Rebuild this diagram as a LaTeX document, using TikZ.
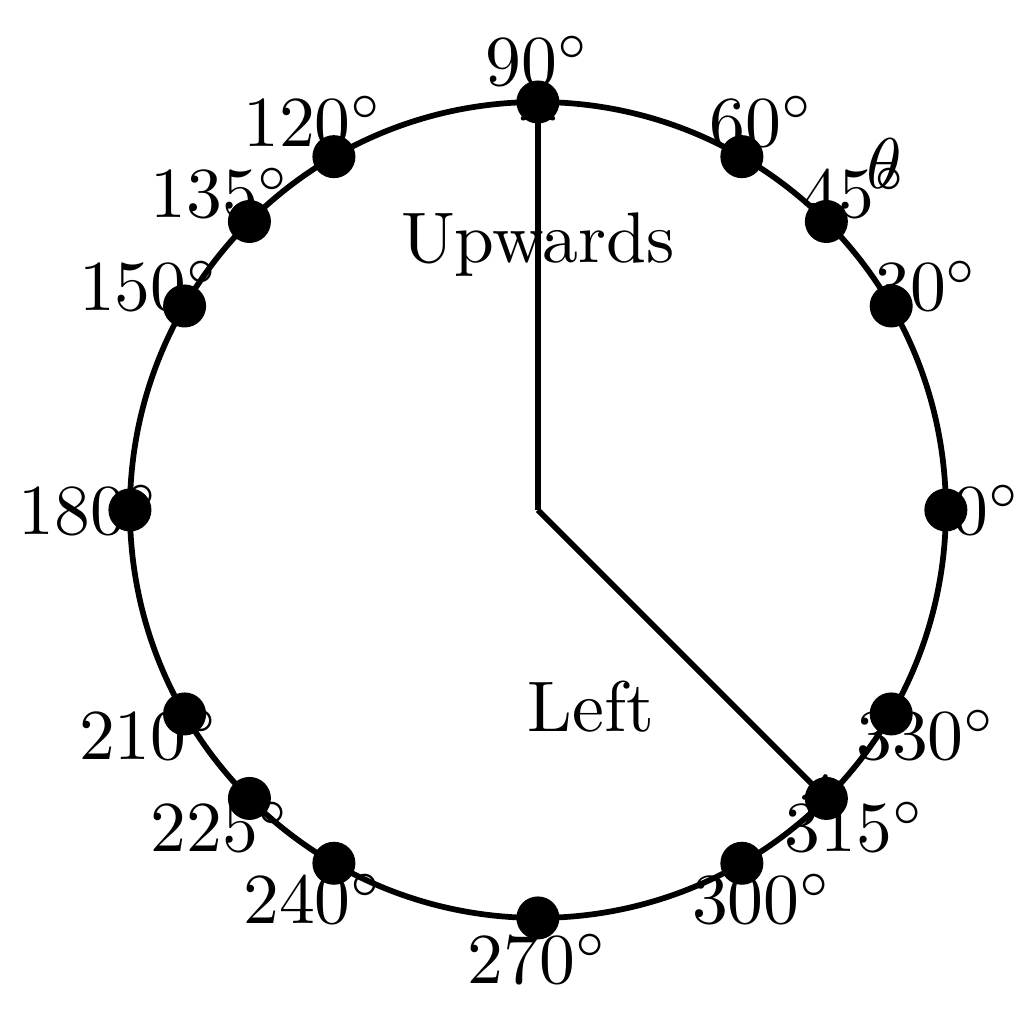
\documentclass[tikz,border=0pt]{standalone}
\usepackage{amsmath}
\usepackage{amssymb}

\begin{document}
\begin{tikzpicture}[thick]
      \useasboundingbox (-2.637,-2.52) rectangle (2.382,2.5);
      \coordinate (O) at (0,0);
      \draw (O) circle (2);
      \node (up) at (0,1.3) {Upwards};
      \node (left) at (-75:1) {Left};
      \node (theta) at (45:2.4) {$\theta$};
      \foreach \a in {0,30,45,60,90,120,135,150,180,210,225,240,270,300,315,330} {
        \coordinate (p\a) at (\a:2);
        \node (l\a) at (\a:2.2) {$\a^\circ$};
      }
      
      \draw[->] (O) -- (p90);
      \draw[->] (O) -- (p315);
      \foreach \a in {0,30,45,60,90,120,135,150,180,210,225,240,270,300,315,330}
        \fill (p\a) circle (3pt);
    \end{tikzpicture}
\end{document}
